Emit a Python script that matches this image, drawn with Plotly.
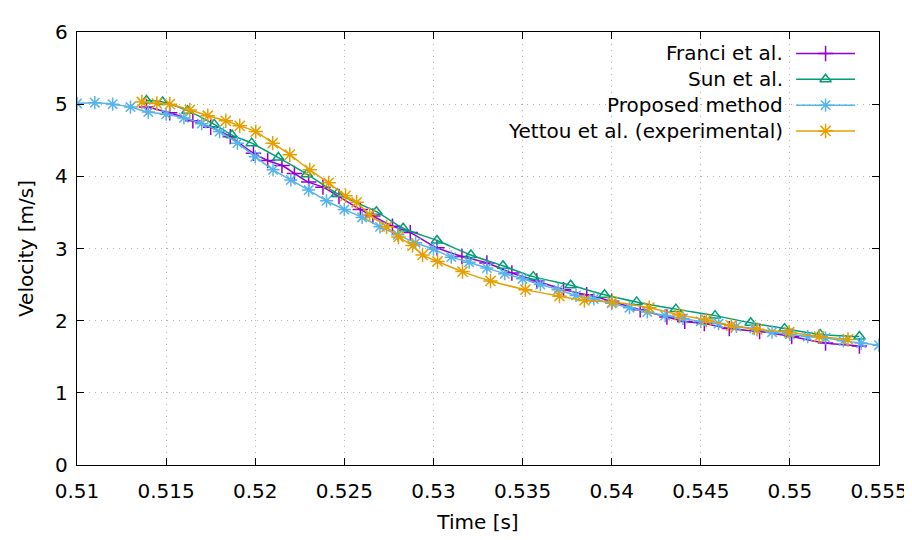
import plotly.graph_objects as go

# ---- data ----
franci_t = [0.5139, 0.5152, 0.5165, 0.5175, 0.5186, 0.5199, 0.5207, 0.5215, 0.5222, 0.5230,
            0.5238, 0.5247, 0.5259, 0.5266, 0.5277, 0.5287, 0.5302, 0.5316, 0.5330, 0.5344,
            0.5358, 0.5373, 0.5386, 0.5400, 0.5416, 0.5431, 0.5441, 0.5452, 0.5466, 0.5483,
            0.5501, 0.5520, 0.5539]
franci_v = [4.96, 4.88, 4.77, 4.68, 4.55, 4.32, 4.22, 4.15, 4.04, 3.92,
            3.85, 3.72, 3.54, 3.45, 3.31, 3.22, 3.01, 2.89, 2.80, 2.66,
            2.55, 2.43, 2.36, 2.27, 2.15, 2.05, 1.99, 1.96, 1.89, 1.85,
            1.78, 1.69, 1.65]

sun_t = [0.5139, 0.5148, 0.5162, 0.5177, 0.5187, 0.5198, 0.5213, 0.5229, 0.5246, 0.5268,
         0.5283, 0.5302, 0.5321, 0.5339, 0.5356, 0.5377, 0.5396, 0.5414, 0.5436, 0.5458,
         0.5478, 0.5497, 0.5517, 0.5539]
sun_v = [5.05, 5.03, 4.91, 4.72, 4.57, 4.46, 4.26, 4.03, 3.76, 3.51,
         3.28, 3.11, 2.91, 2.76, 2.61, 2.49, 2.36, 2.26, 2.16, 2.07,
         1.97, 1.89, 1.81, 1.78]

proposed_t = [0.510, 0.511, 0.512, 0.513, 0.514, 0.515, 0.516, 0.517, 0.518, 0.519,
              0.520, 0.521, 0.522, 0.523, 0.524, 0.525, 0.526, 0.527, 0.528, 0.529,
              0.530, 0.531, 0.532, 0.533, 0.534, 0.535, 0.536, 0.537, 0.538, 0.539,
              0.540, 0.541, 0.542, 0.543, 0.544, 0.545, 0.546, 0.547, 0.548, 0.549,
              0.550, 0.551, 0.552, 0.553, 0.554, 0.555]
proposed_v = [5.01, 5.02, 5.00, 4.96, 4.89, 4.86, 4.81, 4.73, 4.62, 4.46,
              4.27, 4.09, 3.95, 3.81, 3.66, 3.54, 3.43, 3.30, 3.19, 3.08,
              2.99, 2.88, 2.81, 2.73, 2.65, 2.58, 2.50, 2.43, 2.35, 2.30,
              2.24, 2.18, 2.12, 2.07, 2.03, 1.99, 1.96, 1.92, 1.89, 1.84,
              1.81, 1.78, 1.76, 1.72, 1.69, 1.66]

yettou_t = [0.51364, 0.51448, 0.51521, 0.51633, 0.51734, 0.51835, 0.51913, 0.52003, 0.52098, 0.52194,
            0.52306, 0.52412, 0.52507, 0.52569, 0.52642, 0.52737, 0.52804, 0.52883, 0.52939, 0.53023,
            0.53163, 0.53320, 0.53516, 0.53707, 0.53847, 0.54004, 0.54211, 0.54379, 0.54531, 0.54671,
            0.54816, 0.54996, 0.55164, 0.55326]
yettou_v = [5.03, 5.01, 5.00, 4.92, 4.84, 4.77, 4.70, 4.62, 4.46, 4.30,
            4.09, 3.91, 3.73, 3.64, 3.47, 3.30, 3.16, 3.04, 2.91, 2.82,
            2.68, 2.55, 2.43, 2.34, 2.28, 2.26, 2.18, 2.08, 2.01, 1.93,
            1.88, 1.84, 1.78, 1.74]

x_ticks = [0.51, 0.515, 0.52, 0.525, 0.53, 0.535, 0.54, 0.545, 0.55, 0.555]
x_tick_labels = ["0.51", "0.515", "0.52", "0.525", "0.53", "0.535", "0.54", "0.545", "0.55", "0.555"]
y_ticks = [0, 1, 2, 3, 4, 5, 6]

series_names = ["Franci et al.", "Sun et al.", "Proposed method", "Yettou et al. (experimental)"]
series_colors = ["#9400d3", "#009e73", "#56b4e9", "#e69f00"]
series_symbols = ["cross-thin-open", "triangle-up-open", "asterisk-open", "asterisk-open"]
series_sizes = [11, 10, 11, 12]

FONT = "DejaVu Sans, sans-serif"
FS = 20

fig = go.Figure()
data = [(franci_t, franci_v), (sun_t, sun_v), (proposed_t, proposed_v), (yettou_t, yettou_v)]
for (t, v), name, col, sym, sz in zip(data, series_names, series_colors, series_symbols, series_sizes):
    fig.add_trace(go.Scatter(
        x=t, y=v, name=name, mode="lines+markers",
        line=dict(color=col, width=1.5, shape="spline", smoothing=0.8),
        marker=dict(symbol=sym, size=sz, color=col, line=dict(color=col, width=1.5)),
        showlegend=False,
    ))

# page offset (body margin) of the written html
OFF = 8
# plot-area edges in window pixels
L, R, T, B = 77, 880, 21, 465
def fx(px): return (px - L) / (R - L)
def fy(py): return (B - py) / (B - T)

# custom legend: right-aligned labels with samples on their right, on a hidden [0,1] overlay axis
rows_py = [43, 69.5, 96, 122.5]
for name, col, sym, sz, py in zip(series_names, series_colors, series_symbols, series_sizes, rows_py):
    fig.add_trace(go.Scatter(
        x=[fx(797), fx(856)], y=[fy(py), fy(py)], mode="lines",
        line=dict(color=col, width=1.5), xaxis="x2", yaxis="y2", showlegend=False, hoverinfo="skip"))
    fig.add_trace(go.Scatter(
        x=[fx(826.5)], y=[fy(py)], mode="markers",
        marker=dict(symbol=sym, size=sz, color=col, line=dict(color=col, width=1.5)),
        xaxis="x2", yaxis="y2", showlegend=False, hoverinfo="skip"))
    fig.add_annotation(x=fx(786), y=fy(py), xref="x2", yref="y2", text=name, showarrow=False,
                       xanchor="right", yanchor="middle", font=dict(family=FONT, size=FS, color="black"))

# white box behind the legend (hides gridlines there)
fig.add_shape(type="rect", xref="paper", yref="paper", x0=fx(430), x1=fx(867), y0=fy(134), y1=fy(28),
              fillcolor="white", line=dict(width=0), layer="between")

axis_common = dict(
    showline=True, linecolor="black", linewidth=1.3, mirror="allticks",
    ticks="inside", ticklen=7, tickwidth=1.3, tickcolor="black",
    showgrid=True, gridcolor="#b4b4b4", gridwidth=1, griddash="1px,5px",
    zeroline=False, tickfont=dict(family=FONT, size=FS, color="black"),
)
fig.update_layout(
    width=912, height=540,
    margin=dict(l=L - OFF, r=912 - (R - OFF), t=T - OFF, b=540 - (B - OFF)),
    paper_bgcolor="white", plot_bgcolor="white",
    font=dict(family=FONT, size=FS, color="black"),
    xaxis=dict(range=[0.51, 0.555], tickvals=x_ticks, ticktext=x_tick_labels, ticklabelstandoff=8,
               title=dict(text="Time [s]", font=dict(family=FONT, size=FS), standoff=12), **axis_common),
    yaxis=dict(range=[0, 6], tickvals=y_ticks, ticklabelstandoff=4,
               title=dict(text="Velocity [m/s]", font=dict(family=FONT, size=FS), standoff=16), **axis_common),
    xaxis2=dict(overlaying="x", range=[0, 1], visible=False, fixedrange=True),
    yaxis2=dict(overlaying="y", range=[0, 1], visible=False, fixedrange=True),
)

fig.write_html("out.html")
